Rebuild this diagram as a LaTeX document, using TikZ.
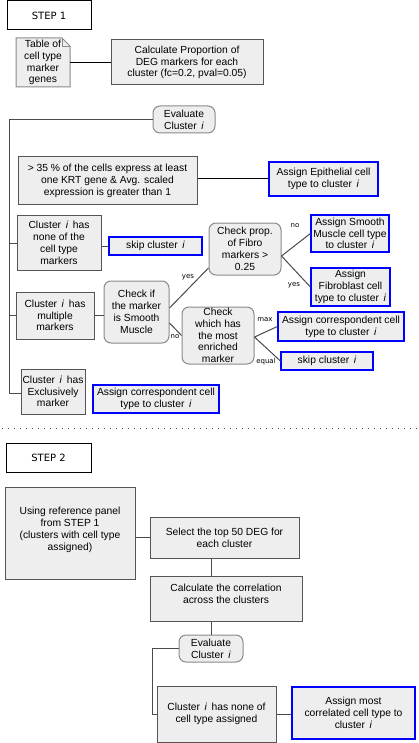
\documentclass[tikz,border=0pt]{standalone}
\usepackage{fontspec}
\setmainfont{Liberation Sans}
\newfontfamily\dvs{DejaVu Sans}
\usetikzlibrary{calc}
\definecolor{boxfill}{HTML}{EEEEEE}
\definecolor{boxgray}{HTML}{555555}
\definecolor{rndgray}{HTML}{8A8A8A}
\definecolor{linegray}{HTML}{4A4A4A}
\definecolor{bblue}{HTML}{0000FF}
\newcommand\mybox[7]{%
  \node[#1, minimum width={#5-#3}, minimum height={#6-#4}] (#2) at ({(#3+#5)/2},{(#4+#6)/2}) {#7};}
\newcommand\ci{\ \,\textit{i}\ \,}
\newcommand\ce{\ \,\textit{i}}
\begin{document}
\begin{tikzpicture}[x=1pt,y=-1pt,
  every node/.style={font=\fontsize{10.3}{11.8}\selectfont, align=center, inner sep=0pt},
  gbox/.style={draw=boxgray, fill=boxfill, line width=1pt},
  bbox/.style={draw=bblue, fill=boxfill, line width=1.2pt},
  rbox/.style={draw=rndgray, fill=boxfill, line width=1pt, rounded corners=7pt},
  stepbox/.style={draw=black, fill=white, line width=1pt, font=\dvs\fontsize{10}{12}\selectfont},
  conn/.style={draw=linegray, line width=1pt},
  lab/.style={font=\dvs\fontsize{7}{8}\selectfont, text=black}]
\useasboundingbox (0,0) rectangle (418,743);
% STEP 1
\mybox{stepbox}{s1}{7}{1}{91}{30}{STEP 1}
\draw[draw=rndgray, fill=boxfill, line width=1pt] (16,38) -- (62,38) -- (70,46) -- (70,87) -- (16,87) -- cycle;
\draw[draw=rndgray, line width=0.8pt] (62,38) -- (62,46) -- (70,46);
\node[minimum width=54, minimum height=49] (tab) at (43,62.5) {\fontsize{10.3}{10.3}\selectfont Table of\\cell type\\marker\\genes};
\mybox{gbox}{calc1}{111}{40}{263}{85}{Calculate Proportion of\\DEG markers for each\\cluster (fc=0.2, pval=0.05)}
\draw[conn, draw=black] (tab.east) -- (tab.east -| calc1.west);
\mybox{rbox}{ev1}{153}{106}{215}{133}{Evaluate\\Cluster\ce}
\coordinate (T) at (9,0);
\mybox{gbox}{krt}{18}{157}{197}{205}{> 35 \% of the cells express at least\\one KRT gene \& Avg. scaled\\expression is greater than 1}
\mybox{bbox}{epi}{269}{162}{378}{196}{Assign Epithelial cell\\type to cluster\ce}
\mybox{gbox}{none}{17}{216}{101}{270}{Cluster\ci has\\none of the\\cell type\\markers}
\mybox{bbox}{skip1}{109}{237}{202}{255}{skip cluster\ce}
\mybox{rbox}{prop}{209}{223}{281}{275}{Check prop.\\of Fibro\\markers >\\0.25}
\mybox{bbox}{sm}{311}{215}{389}{252}{Assign Smooth\\Muscle cell type\\to cluster\ce}
\mybox{bbox}{fib}{311}{268}{390}{306}{Assign\\Fibroblast cell\\type to cluster\ce}
\mybox{gbox}{mult}{16}{292}{94}{339}{Cluster\ci has\\multiple\\markers}
\mybox{rbox}{chk}{104}{281}{169}{343}{Check if\\the marker\\is Smooth\\Muscle}
\mybox{rbox}{which}{182}{307}{254}{364}{\fontsize{10.3}{10.5}\selectfont Check\\which has\\the most\\enriched\\marker}
\mybox{bbox}{corr1}{278}{312}{404}{341}{Assign correspondent cell\\type to cluster\ce}
\mybox{bbox}{skip2}{281}{352}{373}{370}{skip cluster\ce}
\mybox{gbox}{excl}{21}{369}{85}{414}{Cluster\ci has\\Exclusively\\marker}
\mybox{bbox}{corr2}{93}{385}{219}{413}{Assign correspondent cell\\type to cluster\ce}
% trunk
\draw[conn] (ev1.west) -- (ev1.west -| T) |- ($(excl.west)+(0,1.5)$);
\draw[conn] ($(krt.west)+(0,-7)$ -| T) -- ($(krt.west)+(0,-7)$);
\draw[conn] (none.west -| T) -- (none.west);
\draw[conn] (mult.west -| T) -- (mult.west);
\draw[conn, draw=black] (krt.east |- epi.west) -- (epi.west);
\draw[conn] (none.east |- skip1.west) -- (skip1.west);
\draw[conn] (mult.east) -- (mult.east -| chk.west);
\draw[conn] ($(excl.east)+(0,1.5)$) -- ($(excl.east)+(0,1.5)$ -| corr2.west);
\draw[conn] ($(chk.east)+(0,-4)$) -- ($(prop.west)+(0,19)$);
\draw[conn] ($(chk.east)+(0,11)$) -- (which.west);
\node[lab] (lyes1) at (188,277) {yes};
\node[lab] (lno1) at (175,337) {no};
\draw[conn] ($(prop.east)+(0,7)$) -- (sm.west);
\draw[conn] ($(prop.east)+(0,7)$) -- (fib.west);
\node[lab] (lno) at (295,226) {no};
\node[lab] (lyes) at (294,285) {yes};
\draw[conn] ($(which.east)+(0,1.5)$) -- (corr1.west);
\draw[conn] ($(which.east)+(0,1.5)$) -- (skip2.west);
\node[lab] (lmax) at (265,320) {max};
\node[lab] (leq) at (266,362) {equal};
% separator
\draw[draw=linegray, line width=1pt, dash pattern=on 1pt off 5pt] (2,428) -- (418,428);
% STEP 2
\mybox{stepbox}{s2}{6}{443}{91}{472}{STEP 2}
\mybox{gbox}{ref}{5}{487}{135}{579}{Using reference panel\\from STEP 1\\(clusters with cell type\\assigned)\\[-3pt]}
\mybox{gbox}{sel}{150}{517}{299}{558}{Select the top 50 DEG for\\each cluster}
\mybox{gbox}{corr}{150}{576}{302}{621}{Calculate the correlation\\across the clusters\\[-3pt]}
\mybox{rbox}{ev2}{179}{635}{243}{662}{Evaluate\\Cluster\ce}
\mybox{gbox}{none2}{157}{686}{276}{742}{Cluster\ci has none of\\cell type assigned}
\mybox{bbox}{most}{292}{687}{415}{739}{Assign most\\correlated cell type to\\cluster\ce}
\coordinate (T2) at (152,0);
\draw[conn] (ref.east |- sel.west) -- (sel.west);
\draw[conn] (sel.south -| ev2.north) -- (corr.north -| ev2.north);
\draw[conn] (corr.south -| ev2.north) -- (ev2.north);
\draw[conn] (ev2.west) -- (ev2.west -| T2) |- (none2.west);
\draw[conn] (none2.east) -- (none2.east -| most.west);
\end{tikzpicture}
\end{document}
